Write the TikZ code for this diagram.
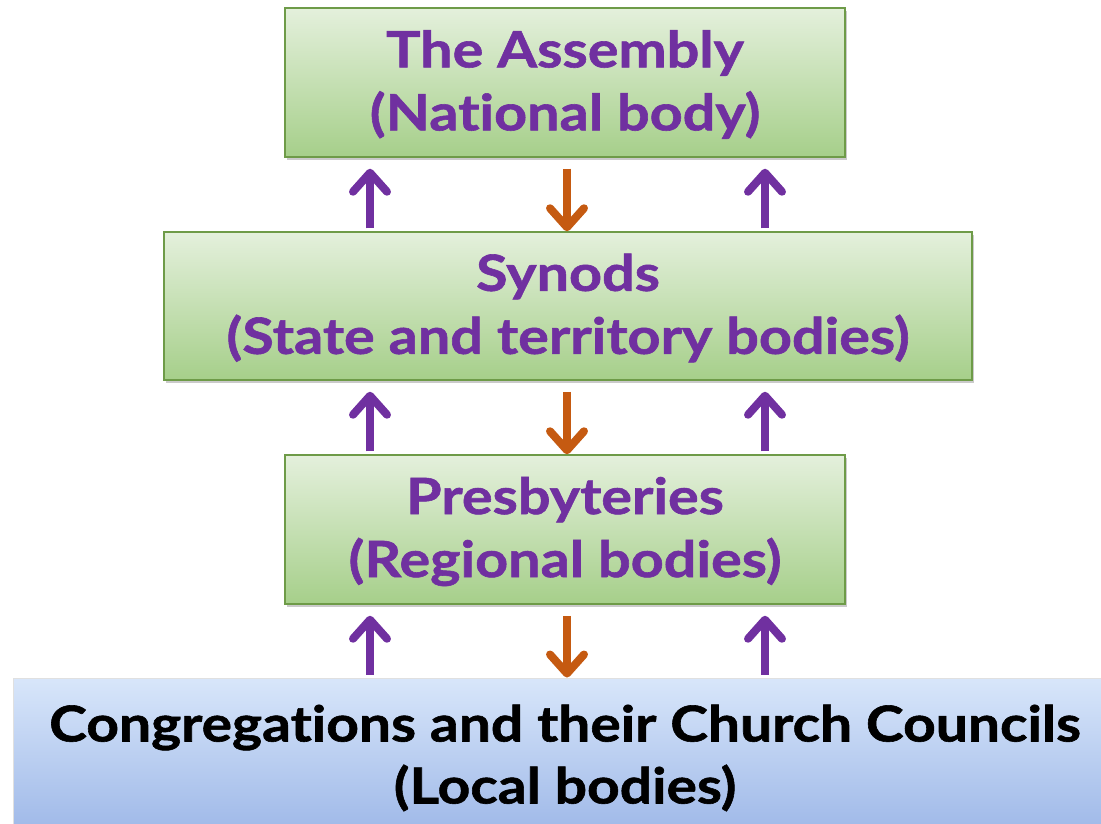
\documentclass[tikz,border=0pt]{standalone}
\usepackage{fontspec}
\setmainfont{Lato}
\newfontfamily\gillish{Lato}[FakeStretch=1.15, Ligatures=NoCommon, BoldFeatures={FakeBold=1.2}]
\usetikzlibrary{arrows.meta,shadows}
\definecolor{gtop}{HTML}{E4F0DC}
\definecolor{gbot}{HTML}{A6CF8A}
\definecolor{gline}{HTML}{6E9B48}
\definecolor{btop}{HTML}{D8E6FA}
\definecolor{bbot}{HTML}{9EB8E8}
\definecolor{txtpurple}{HTML}{7030A0}
\definecolor{arrorange}{HTML}{C55A11}
\begin{document}
\begin{tikzpicture}[x=1pt,y=-1pt,
  greenbox/.style={draw=gline, line width=1.5pt, top color=gtop, bottom color=gbot,
    inner sep=0pt,
    drop shadow={shadow xshift=2pt, shadow yshift=-3pt, opacity=0.35, fill=black!60}},
  bluebox/.style={draw=black!12, line width=1pt, top color=btop, bottom color=bbot,
    inner sep=0pt},
  purpletext/.style={inner sep=0pt, align=center, text=txtpurple,
    font=\gillish\fontsize{50}{63}\selectfont\bfseries},
  blacktext/.style={inner sep=0pt, align=center, text=black,
    font=\gillish\fontsize{49.5}{62}\selectfont\bfseries},
  uparr/.style={draw=txtpurple, line width=8pt,
    -{Straight Barb[length=19pt, width=34pt, round]}, shorten <=3pt, shorten >=11pt},
  downarr/.style={draw=arrorange, line width=8pt,
    -{Straight Barb[length=19pt, width=34pt, round]}, shorten <=11pt, shorten >=0pt}
]
\useasboundingbox (0,0) rectangle (1101,824);
\clip (0,0) rectangle (1101,824);

\node[greenbox, minimum width=560pt, minimum height=149pt] (b1) at (565,82.5) {};
\node[greenbox, minimum width=808pt, minimum height=148pt] (b2) at (568,306) {};
\node[greenbox, minimum width=560pt, minimum height=149pt] (b3) at (565,529.5) {};
\node[bluebox, minimum width=1100pt, minimum height=156pt] (b4) at (563,756) {};

\node[purpletext] (t1) at ([yshift=-2pt]b1.center) {The Assembly\\(National body)};
\node[purpletext] (t2) at ([yshift=-2pt]b2.center) {Synods\\(State and territory bodies)};
\node[purpletext] (t3) at ([yshift=-2pt]b3.center) {Presbyteries\\(Regional bodies)};
\node[blacktext] (t4) at ([xshift=2pt,yshift=-2pt]b4.center) {Congregations and their Church Councils\\(Local bodies)};

\coordinate (xl) at (370,0);
\coordinate (xm) at (567,0);
\coordinate (xr) at (765,0);

\draw[uparr] (b2.north -| xl) -- (b1.south -| xl);
\draw[downarr] (b1.south -| xm) -- (b2.north -| xm);
\draw[uparr] (b2.north -| xr) -- (b1.south -| xr);

\draw[uparr] (b3.north -| xl) -- (b2.south -| xl);
\draw[downarr] (b2.south -| xm) -- (b3.north -| xm);
\draw[uparr] (b3.north -| xr) -- (b2.south -| xr);

\draw[uparr] (b4.north -| xl) -- (b3.south -| xl);
\draw[downarr] (b3.south -| xm) -- (b4.north -| xm);
\draw[uparr] (b4.north -| xr) -- (b3.south -| xr);
\end{tikzpicture}
\end{document}
